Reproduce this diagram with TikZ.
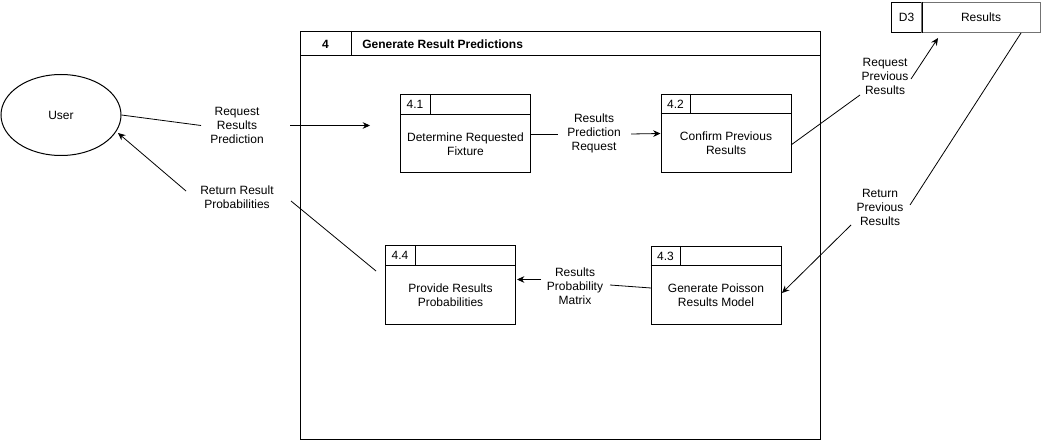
\documentclass[tikz,border=0pt]{standalone}
\usepackage{fontspec}
\setmainfont{Liberation Sans}
\usetikzlibrary{arrows.meta,shapes.geometric}
\tikzset{
  boxline/.style={line width=0.75pt, draw=black},
  procbox/.style={boxline, rectangle, inner sep=0pt, minimum width=97.5pt, minimum height=58.5pt},
  txt/.style={inner sep=0pt, align=center, font=\fontsize{9}{10.5}\selectfont},
  flow/.style={line width=0.6pt, draw=black},
  flowarrow/.style={flow, -{Stealth[length=5.5pt,width=5pt]}},
}
\newcommand{\dfdproc}[5]{%
  \node[procbox] (#1) at (#2,#3) {};
  \draw[boxline] ([yshift=-15pt]#1.north west) -- ([yshift=-15pt]#1.north east);
  \draw[boxline] ([xshift=22.5pt]#1.north west) -- ([xshift=22.5pt,yshift=-15pt]#1.north west);
  \node[txt] at ([xshift=11.25pt,yshift=-7.5pt]#1.north west) {#4};
  \node[txt] at ([yshift=-7.5pt]#1.center) {#5};
}
\begin{document}
\begin{tikzpicture}[x=0.75pt,y=-0.75pt]
\useasboundingbox (0,0) rectangle (1041,441);

% external entity
\node[ellipse, boxline, minimum width=90pt, minimum height=60.75pt, inner sep=0pt, font=\fontsize{9}{10.5}\selectfont] (User) at (61,115) {User};

% parent process 4
\node[boxline, rectangle, inner sep=0pt, anchor=north west, minimum width=390pt, minimum height=306pt] (P4) at (300,31) {};
\draw[boxline] ([yshift=-18.75pt]P4.north west) -- ([yshift=-18.75pt]P4.north east);
\draw[boxline] ([xshift=38.25pt]P4.north west) -- ([xshift=38.25pt,yshift=-18.75pt]P4.north west);
\node[txt, font=\bfseries\fontsize{9}{10.5}\selectfont] (P4num) at (325.5,44) {4};
\node[txt, font=\bfseries\fontsize{9}{10.5}\selectfont, anchor=west] (P4title) at (362,44) {Generate Result Predictions};

% data store D3
\node[boxline, rectangle, inner sep=0pt, anchor=north west, minimum width=22.5pt, minimum height=22.5pt, font=\fontsize{9}{10.5}\selectfont] (D3) at (891,2) {D3};
\node[rectangle, draw=black!55, line width=0.75pt, inner sep=0pt, anchor=north west, minimum width=89.25pt, minimum height=22.5pt, font=\fontsize{9}{10.5}\selectfont] (Res) at (921,2) {Results};
\draw[boxline] (D3.north east) -- (D3.south east);

% sub-processes
\dfdproc{p41}{465.5}{134}{4.1}{Determine Requested\\Fixture}
\dfdproc{p42}{726}{133.5}{4.2}{Confirm Previous\\Results}
\dfdproc{p43}{716}{285.5}{4.3}{Generate Poisson\\Results Model}
\dfdproc{p44}{450.5}{285}{4.4}{Provide Results\\Probabilities}

% flow labels
\node[txt] (lA) at (237,125) {Request\\Results\\Prediction};
\node[txt] (lB) at (237,197.5) {Return Result\\Probabilities};
\node[txt] (lC) at (594,133.5) {Results\\Prediction\\Request};
\node[txt] (lD) at (885,76.5) {Request\\Previous\\Results};
\node[txt] (lE) at (880,207.5) {Return\\Previous\\Results};
\node[txt] (lF) at (575,286) {Results\\Probability\\Matrix};

% flow break points
\coordinate (a1) at (201,125.5);
\coordinate (a2) at (290,125.5);
\coordinate (a3) at (370,125.5);
\coordinate (b1) at (376,271);
\coordinate (b2) at (291,201);
\coordinate (b3) at (186,191);
\coordinate (b4) at (118,133);
\coordinate (c1) at (558,134);
\coordinate (c2) at (631,134);
\coordinate (d1) at (791,145);
\coordinate (d2) at (860,95);
\coordinate (d3) at (911,79);
\coordinate (d4) at (938,38);
\coordinate (e1) at (1021,33);
\coordinate (e2) at (910,205);
\coordinate (e3) at (851,225);
\coordinate (e4) at (782,293);
\coordinate (f1) at (651,288);
\coordinate (f2) at (610,285);
\coordinate (f3) at (541,279.5);
\coordinate (f4) at (517,279.5);

% flows
\draw[flow] (User.east) -- (a1);
\draw[flowarrow] (a2) -- (a3);
\draw[flow] (b1) -- (b2);
\draw[flowarrow] (b3) -- (b4);
\draw[flow] (p41.east) -- (c1);
\draw[flowarrow] (c2) -- (p42.west);
\draw[flow] (d1) -- (d2);
\draw[flowarrow] (d3) -- (d4);
\draw[flow] (e1) -- (e2);
\draw[flowarrow] (e3) -- (e4);
\draw[flow] (f1) -- (f2);
\draw[flowarrow] (f3) -- (f4);
\end{tikzpicture}
\end{document}
